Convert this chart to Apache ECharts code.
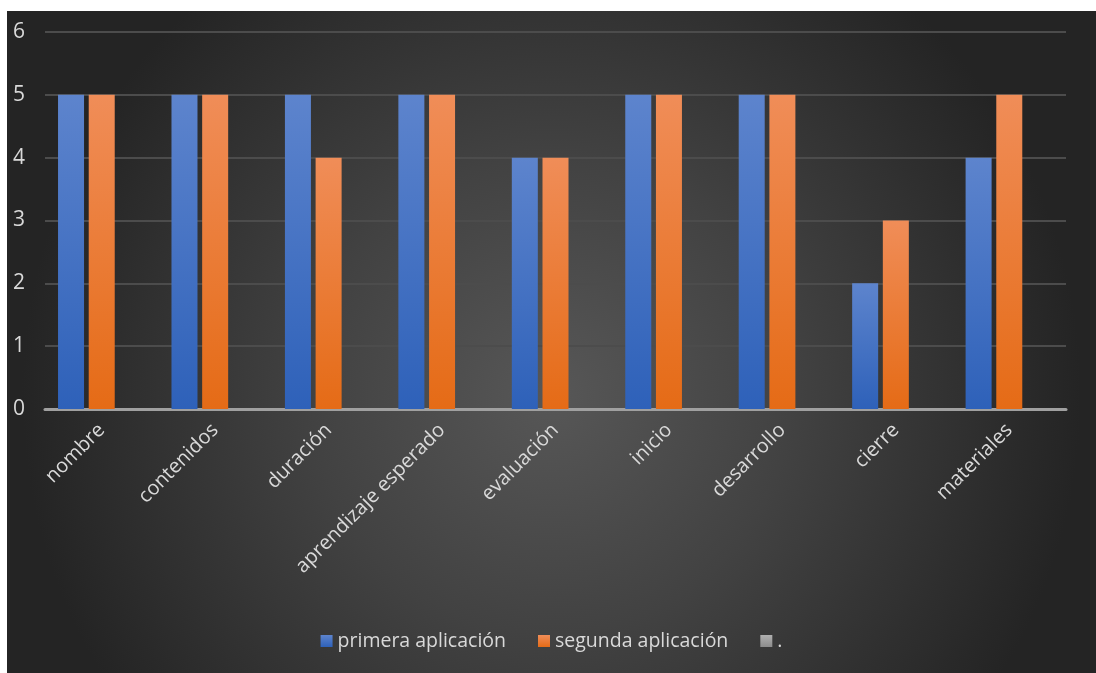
<!DOCTYPE html>
<html>
<head>
<meta charset="utf-8">
<script src="https://cdn.jsdelivr.net/npm/echarts@6/dist/echarts.min.js"></script>
<style>
  html, body { margin: 0; padding: 0; background: #ffffff; }
  #chart { position: absolute; left: 7px; top: 11px; width: 1089px; height: 662px; }
</style>
</head>
<body>
<div id="chart"></div>
<script>
// Criteria evaluated in each application
const categories = ['nombre', 'contenidos', 'duración', 'aprendizaje esperado', 'evaluación', 'inicio', 'desarrollo', 'cierre', 'materiales'];
const primeraAplicacion = [5, 5, 5, 5, 4, 5, 5, 2, 4];
const segundaAplicacion = [5, 5, 4, 5, 4, 5, 5, 3, 5];
const puntoSerie = ['-', '-', '-', '-', '-', '-', '-', '-', '-'];
const seriesNames = ['primera aplicación', 'segunda aplicación', '.'];
const yTicks = { min: 0, max: 6, interval: 1 };

const chart = echarts.init(document.getElementById('chart'));

function vGrad(top, bottom) {
  return new echarts.graphic.LinearGradient(0, 0, 0, 1, [
    { offset: 0, color: top },
    { offset: 1, color: bottom }
  ]);
}

const barShadow = {
  shadowBlur: 8,
  shadowColor: 'rgba(0,0,0,0.55)',
  shadowOffsetX: 3,
  shadowOffsetY: 2
};

chart.setOption({
  backgroundColor: new echarts.graphic.RadialGradient(0.5, 0.58, 0.8, [
    { offset: 0, color: '#575757' },
    { offset: 0.45, color: '#424242' },
    { offset: 1, color: '#242424' }
  ]),
  textStyle: { fontFamily: 'Open Sans' },
  grid: { left: 38, right: 30, top: 21, bottom: 264 },
  legend: {
    bottom: 17,
    left: 'center',
    itemWidth: 12,
    itemHeight: 12,
    itemGap: 32,
    icon: 'rect',
    textStyle: { color: '#d9d9d9', fontSize: 19.5, fontFamily: 'Open Sans' },
    data: seriesNames
  },
  xAxis: {
    type: 'category',
    data: categories,
    axisLine: { show: true, lineStyle: { color: '#a0a0a0', width: 3 } },
    axisTick: { show: false },
    axisLabel: {
      rotate: 45,
      color: '#d9d9d9',
      fontSize: 20,
      margin: 18,
      interval: 0
    }
  },
  yAxis: {
    type: 'value',
    min: yTicks.min,
    max: yTicks.max,
    interval: yTicks.interval,
    axisLine: { show: false },
    axisTick: { show: false },
    axisLabel: { color: '#d9d9d9', fontSize: 21, margin: 22, align: 'left', padding: [0, 0, 0, -10] },
    splitLine: { lineStyle: { color: '#4c4c4c', width: 2 } }
  },
  series: [
    {
      name: seriesNames[0],
      type: 'bar',
      data: primeraAplicacion,
      barWidth: 26,
      barGap: '18%',
      itemStyle: Object.assign({ color: vGrad('#5d84cd', '#2e61b9') }, barShadow)
    },
    {
      name: seriesNames[1],
      type: 'bar',
      data: segundaAplicacion,
      barWidth: 26,
      barGap: '18%',
      itemStyle: Object.assign({ color: vGrad('#f08d58', '#e56b16') }, barShadow)
    },
    {
      name: seriesNames[2],
      type: 'bar',
      data: puntoSerie,
      barWidth: 26,
      barGap: '18%',
      itemStyle: { color: vGrad('#b0b0b0', '#8c8c8c') }
    }
  ]
});
</script>
</body>
</html>
